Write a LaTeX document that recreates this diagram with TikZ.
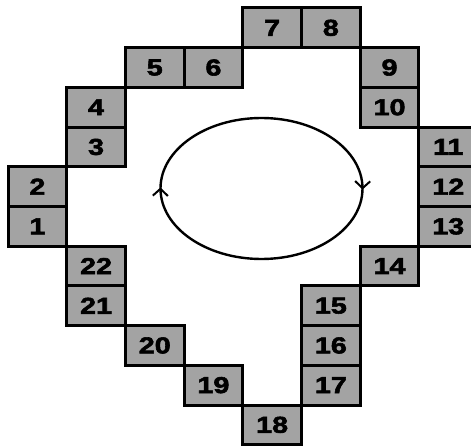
\documentclass[tikz,border=0pt]{standalone}
\usepackage{fontspec}
\setmainfont{Liberation Sans}
\newfontfamily\numfont[FakeStretch=1.25,FakeBold=2.5]{Liberation Sans Bold}
\usetikzlibrary{decorations.markings,arrows.meta}
\begin{document}
\begin{tikzpicture}[x=1pt,y=-1pt,
  cell/.style={draw=black,line width=3pt,fill=black!36,minimum width=58.7pt,minimum height=39.7pt,
    inner sep=0pt,outer sep=0pt,font=\fontsize{23}{23}\selectfont\numfont,text=black},
  loopline/.style={line width=2.4pt,
    postaction={decorate,decoration={markings,
      mark=at position 0.002 with {\arrow{Straight Barb[length=7pt,width=15pt,line width=2pt]}},
      mark=at position 0.502 with {\arrow{Straight Barb[length=7pt,width=15pt,line width=2pt]}}}}}]
\useasboundingbox (0,0) rectangle (471,446);
\foreach \c/\r/\t in {0/5/1,0/4/2,1/3/3,1/2/4,2/1/5,3/1/6,4/0/7,5/0/8,6/1/9,6/2/10,7/3/11,7/4/12,7/5/13,
  6/6/14,5/7/15,5/8/16,5/9/17,4/10/18,3/9/19,2/8/20,1/7/21,1/6/22}{
  \node[cell] (b\t) at ({8+58.7*\c+29.35},{8+39.7*\r+19.85}) {\t};
}
\coordinate (ctr) at (261.5,188.5);
\draw[loopline] (ctr) ellipse [x radius=101, y radius=70.5];
\end{tikzpicture}
\end{document}
